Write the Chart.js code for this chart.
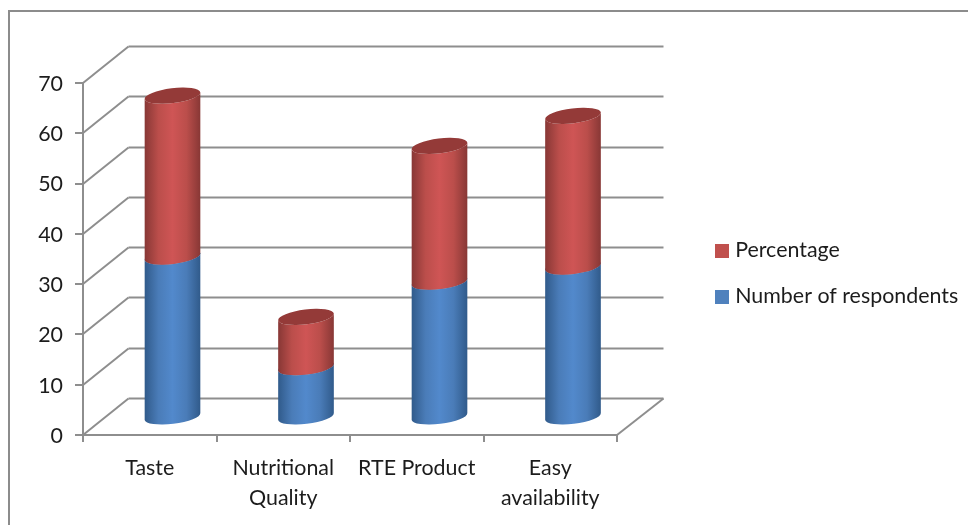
<!DOCTYPE html>
<html>
<head>
<meta charset="utf-8">
<title>Respondents by attribute</title>
<script src="https://cdn.jsdelivr.net/npm/chart.js@4"></script>
<style>
  html, body { margin: 0; background: #fff; }
  #frame {
    position: absolute; left: 8px; top: 10px; right: 0; bottom: 0;
    border-left: 2px solid #8c8c8c; border-top: 2px solid #8c8c8c;
  }
  #chart { position: absolute; left: 0; top: 0; }
</style>
</head>
<body>
<div id="frame"></div>
<canvas id="chart" width="968" height="525"></canvas>
<script>
const categories = [['Taste'], ['Nutritional', 'Quality'], ['RTE Product'], ['Easy', 'availability']]
const respondents = [32, 10, 27, 30]
const percentages = [32, 10, 27, 30]
const yTicks = [0, 10, 20, 30, 40, 50, 60, 70]

const FONT = { family: 'Lato, Carlito, sans-serif', size: 21.4, lineHeight: 1.4 }
const INK = '#1c1c1c'
const RULE = '#8e8e8e'

// depth of the fake 3D box, back wall relative to the front axes
const DEPTH_X = 45.5
const DEPTH_Y = -36.5
const BAR_LIFT = -17.5
const TILT = -7 * Math.PI / 180
const CAP_RY = 7.4

const shades = [
  { edge: '#305a8a', base: '#4a7cb8', mid: '#5289cc', cap: '#3b6698' },
  { edge: '#873735', base: '#bb4e4b', mid: '#cf5555', cap: '#943a38' }
]

function swatch (color) {
  const c = document.createElement('canvas')
  c.width = 14
  c.height = 14
  const g = c.getContext('2d')
  g.fillStyle = color
  g.fillRect(0, 0, 14, 14)
  return c
}

const swatches = [swatch('#4f81bd'), swatch('#c0504d')]

function line (ctx, x1, y1, x2, y2) {
  ctx.beginPath()
  ctx.moveTo(x1, y1)
  ctx.lineTo(x2, y2)
  ctx.stroke()
}

function cylinder (ctx, bar, shade) {
  const cx = bar.x + DEPTH_X / 2
  const top = bar.y + BAR_LIFT
  const bottom = bar.base + BAR_LIFT
  const rx = bar.width / 2

  const grad = ctx.createLinearGradient(cx - rx, 0, cx + rx, 0)
  grad.addColorStop(0, shade.edge)
  grad.addColorStop(0.25, shade.base)
  grad.addColorStop(0.5, shade.mid)
  grad.addColorStop(0.75, shade.base)
  grad.addColorStop(1, shade.edge)

  ctx.fillStyle = grad
  ctx.beginPath()
  ctx.ellipse(cx, bottom, rx, CAP_RY, TILT, 0, Math.PI)
  ctx.ellipse(cx, top, rx, CAP_RY, TILT, Math.PI, 0, true)
  ctx.closePath()
  ctx.fill()

  ctx.fillStyle = shade.cap
  ctx.beginPath()
  ctx.ellipse(cx, top, rx, CAP_RY, TILT, 0, Math.PI * 2)
  ctx.fill()
}

const box3d = {
  id: 'box3d',
  beforeLayout (chart) {
    // legend column keeps a fixed width so the plot ends at the same place
    chart.legend.fit = function () {
      Object.getPrototypeOf(this).fit.call(this)
      this.width = 351
    }
  },
  afterLayout (chart) {
    const legend = chart.legend
    legend.left = 719.5 - legend.options.labels.padding
    legend.top = 0
    legend.bottom = 547
  },
  beforeDatasetsDraw (chart) {
    const { ctx, chartArea, scales } = chart
    ctx.save()
    ctx.strokeStyle = RULE
    ctx.lineWidth = 2
    // back wall rules and their run along the side wall
    scales.y.ticks.forEach(t => {
      const y = Math.round(scales.y.getPixelForValue(t.value))
      line(ctx, chartArea.left, y, chartArea.left + DEPTH_X, y + DEPTH_Y)
      line(ctx, chartArea.left + DEPTH_X, y + DEPTH_Y, chartArea.right + DEPTH_X + 1, y + DEPTH_Y)
    })
    // floor edge on the right
    line(ctx, chartArea.right, chartArea.bottom, chartArea.right + DEPTH_X + 1, chartArea.bottom + DEPTH_Y)
    ctx.restore()
  },
  beforeDatasetDraw () {
    // the flat bars are replaced by cylinders below
    return false
  },
  afterDatasetsDraw (chart) {
    const { ctx } = chart
    ctx.save()
    categories.forEach((_, i) => {
      chart.data.datasets.forEach((_ds, d) => {
        cylinder(ctx, chart.getDatasetMeta(d).data[i], shades[d])
      })
    })
    ctx.restore()
  }
}

const legendDefaults = Chart.defaults.plugins.legend.labels

new Chart(document.getElementById('chart'), {
  type: 'bar',
  data: {
    labels: categories,
    datasets: [
      { label: 'Number of respondents', data: respondents, backgroundColor: '#4f81bd' },
      { label: 'Percentage', data: percentages, backgroundColor: '#c0504d' }
    ]
  },
  options: {
    responsive: false,
    animation: false,
    barPercentage: 0.42,
    categoryPercentage: 1,
    layout: { padding: { top: 83, left: 0, right: 0, bottom: 0 } },
    plugins: {
      tooltip: { enabled: false },
      legend: {
        position: 'right',
        reverse: true,
        labels: {
          font: FONT,
          color: INK,
          padding: 24.6,
          usePointStyle: true,
          pointStyleWidth: 5,
          generateLabels: chart => legendDefaults.generateLabels(chart).map(item => ({
            ...item,
            pointStyle: swatches[item.datasetIndex]
          }))
        }
      }
    },
    scales: {
      x: {
        stacked: true,
        afterFit: s => { s.height = 90 },
        border: { color: RULE, width: 2 },
        grid: { color: RULE, lineWidth: 2, drawOnChartArea: false, tickLength: 7, offset: true },
        ticks: { font: FONT, color: INK, padding: 11, maxRotation: 0, autoSkip: false }
      },
      y: {
        stacked: true,
        min: 0,
        max: yTicks[yTicks.length - 1],
        afterFit: s => { s.width = 83 },
        border: { color: RULE, width: 2 },
        grid: { color: RULE, lineWidth: 2, drawOnChartArea: false, tickLength: 8 },
        afterBuildTicks: s => { s.ticks = yTicks.map(value => ({ value })) },
        ticks: { font: FONT, color: INK, padding: 12, labelOffset: 1 }
      }
    }
  },
  plugins: [box3d]
})
</script>
</body>
</html>
